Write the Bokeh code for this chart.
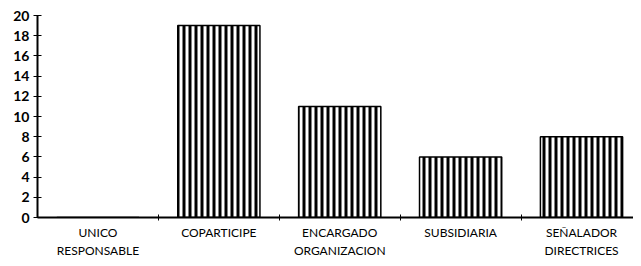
from bokeh.plotting import figure
from bokeh.models import FixedTicker, Range1d
from bokeh.embed import file_html
from bokeh.resources import INLINE

categories = ["UNICO\nRESPONSABLE", "COPARTICIPE", "ENCARGADO\nORGANIZACION",
              "SUBSIDIARIA", "SEÑALADOR\nDIRECTRICES"]
values = [0, 19, 11, 6, 8]
y_ticks = [0, 2, 4, 6, 8, 10, 12, 14, 16, 18, 20]

n = len(categories)
xs = [i + 0.5 for i in range(n)]

p = figure(width=633, height=258, output_backend="svg", toolbar_location=None,
           x_range=Range1d(0, 4.93), y_range=Range1d(0, 20),
           min_border_left=37, min_border_right=0, min_border_top=15, min_border_bottom=41)
p.frame_width = 596
p.frame_height = 202

p.vbar(x=xs, top=values, width=0.68, fill_color="white", line_color="black", line_width=1.5,
       hatch_pattern="vertical_line", hatch_color="black", hatch_weight=3, hatch_scale=6)

p.xgrid.visible = False
p.ygrid.visible = False
p.outline_line_color = None

p.xaxis.ticker = FixedTicker(ticks=xs, minor_ticks=[i for i in range(1, n)])
p.xaxis.major_label_overrides = {x: c for x, c in zip(xs, categories)}
p.xaxis.major_tick_out = 0
p.xaxis.major_tick_in = 0
p.xaxis.minor_tick_out = 3
p.xaxis.minor_tick_in = 3
p.xaxis.axis_line_width = 2
p.xaxis.major_label_text_font = "Lato"
p.xaxis.major_label_text_font_size = "12px"
p.xaxis.major_label_text_color = "black"
p.xaxis.major_label_standoff = 4

p.yaxis.ticker = FixedTicker(ticks=y_ticks, minor_ticks=[])
p.yaxis.major_tick_out = 4
p.yaxis.major_tick_in = 4
p.yaxis.axis_line_width = 2
p.yaxis.major_label_text_font = "Lato"
p.yaxis.major_label_text_font_size = "14px"
p.yaxis.major_label_text_font_style = "bold"
p.yaxis.major_label_text_color = "black"
p.yaxis.major_label_standoff = 4

open("out.html", "w").write(file_html(p, INLINE))
